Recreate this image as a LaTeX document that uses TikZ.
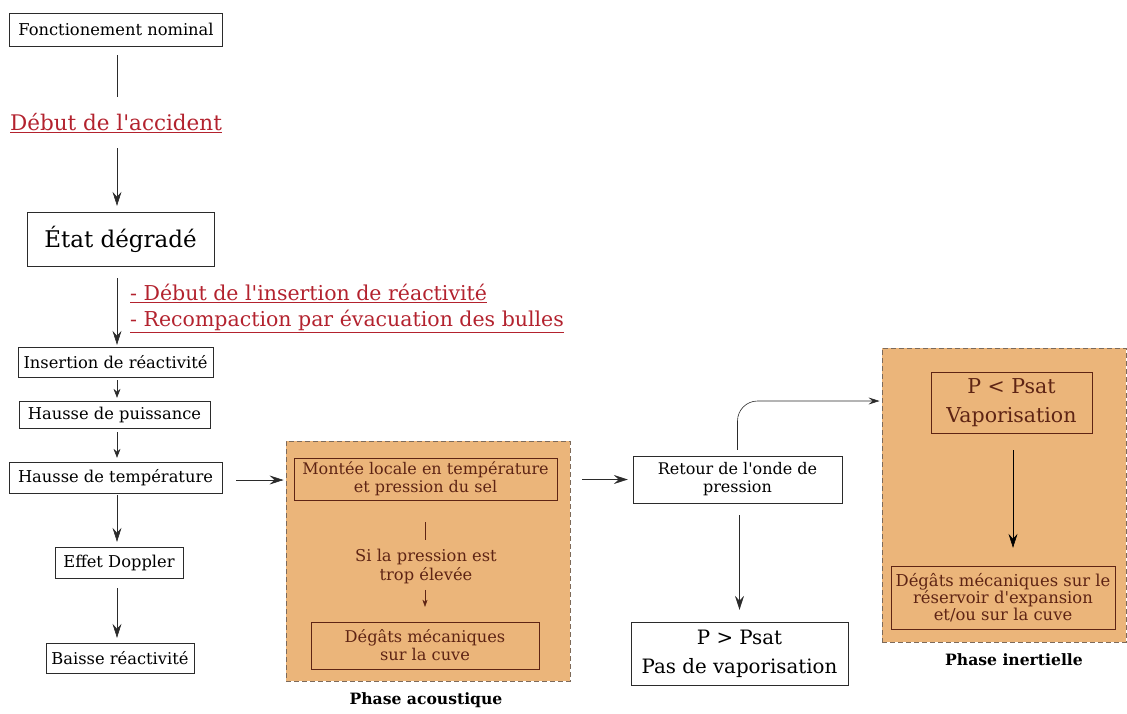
\documentclass[tikz,border=0pt]{standalone}
\usepackage{fontspec}
\setmainfont{DejaVu Serif}[Ligatures=TeXOff]
\usepackage{tikz}
\usetikzlibrary{arrows.meta,positioning,calc}
\definecolor{ink}{HTML}{2B2B2B}
\definecolor{alert}{HTML}{B3222E}
\definecolor{phasefill}{HTML}{EBB57A}
\definecolor{phaseline}{HTML}{7D6A5A}
\definecolor{brownink}{HTML}{5E2414}
\newcommand{\fs}[2]{\fontsize{#1}{#2}\selectfont}

\begin{document}
\begin{tikzpicture}[
  x=1pt, y=-1pt,
  every node/.style={inner sep=0pt},
  plainbox/.style={draw=ink, fill=white, align=center, text=black},
  innerbox/.style={draw=brownink, align=center, text=brownink},
  phasebox/.style={draw=phaseline, line width=0.9pt, dash pattern=on 5pt off 3pt,
    fill=phasefill},
  redlabel/.style={text=alert, anchor=west, font=\fs{20.5}{24}},
  phaselabel/.style={font=\bfseries\fs{15.6}{18}},
  flowline/.style={-{Stealth[length=14pt,width=9pt,inset=5pt]}, draw=ink, semithick},
  smallflow/.style={-{Stealth[length=9pt,width=7pt,inset=3pt]}, draw=ink, semithick},
  plainline/.style={draw=ink, semithick},
]
  \useasboundingbox (0,0) rectangle (1127,713);
  \coordinate (col) at (117,0);

  % phases
  \node[phasebox, minimum width=284, minimum height=240] (acoustic) at (428,561) {};
  \node[phasebox, minimum width=244, minimum height=294] (inertial) at (1004,495) {};

  % left column
  \node[plainbox, minimum width=213, minimum height=33, font=\fs{16.3}{19}]
    (nominal) at (116,29.5) {Fonctionement nominal};
  \node[text=alert, font=\fs{21.5}{25}] (debut) at (116,123)
    {\underline{Début de l'accident}};
  \node[plainbox, minimum width=187, minimum height=54, font=\fs{23}{27}]
    (degrade) at (120.5,239) {État dégradé};
  \node[redlabel] (ins) at (130,293)
    {\underline{- Début de l'insertion de réactivité}};
  \node[redlabel] (recomp) at (130,321)
    {\underline{- Recompaction par évacuation des bulles}};
  \node[plainbox, minimum width=195, minimum height=30, font=\fs{16.3}{19}]
    (insertion) at (115.5,362) {Insertion de réactivité};
  \node[plainbox, minimum width=191, minimum height=27, font=\fs{16.3}{19}]
    (puissance) at (114.5,414.5) {Hausse de puissance};
  \node[plainbox, minimum width=213, minimum height=31, font=\fs{16.3}{19}]
    (temperature) at (115.5,477.5) {Hausse de température};
  \node[plainbox, minimum width=128, minimum height=31, font=\fs{16.3}{19}]
    (doppler) at (119,562.5) {Effet Doppler};
  \node[plainbox, minimum width=148, minimum height=30, font=\fs{16.3}{19}]
    (baisse) at (120,658) {Baisse réactivité};

  \draw[plainline] ($(nominal.south -| col)+(0,9)$) -- ($(nominal.south -| col)+(0,51)$);
  \draw[flowline] ($(debut.center -| col)+(0,25)$) -- ($(degrade.north -| col)+(0,-6)$);
  \draw[flowline] ($(degrade.south -| col)+(0,12)$) -- ($(insertion.north -| col)+(0,-2)$);
  \draw[smallflow] ($(insertion.south -| col)+(0,3)$) -- ($(puissance.north -| col)+(0,-3)$);
  \draw[smallflow] ($(puissance.south -| col)+(0,4)$) -- ($(temperature.north -| col)+(0,-4)$);
  \draw[flowline] ($(temperature.south -| col)+(0,2)$) -- ($(doppler.north -| col)+(0,-5)$);
  \draw[flowline] ($(doppler.south -| col)+(0,10)$) -- ($(baisse.north -| col)+(0,-5)$);
  \draw[flowline] ($(temperature.east)+(14,2.5)$) -- ($(acoustic.west |- temperature)+(-2,2.5)$);

  % acoustic phase
  \node[innerbox, minimum width=263, minimum height=42, font=\fs{16}{18}]
    (montee) at (425.5,479) {Montée locale en température\\et pression du sel};
  \node[align=center, text=brownink, font=\fs{16.3}{19}] (si) at (426,566)
    {Si la pression est\\trop élevée};
  \node[innerbox, minimum width=228, minimum height=47, font=\fs{16.2}{18}]
    (degatsA) at (425,645.5) {Dégâts mécaniques\\sur la cuve};
  \node[phaselabel] (acoustique) at (426,700) {Phase acoustique};
  \draw[brownink, thin] ($(montee.south)+(0,22)$) -- ($(montee.south)+(0,40)$);
  \draw[-{Stealth[length=7pt,width=5pt,inset=2pt]}, brownink, thin]
    ($(degatsA.north)+(0,-32)$) -- ($(degatsA.north)+(0,-15)$);

  % pressure wave
  \node[plainbox, minimum width=209, minimum height=47, font=\fs{16}{18}]
    (retour) at (737.5,479.5) {Retour de l'onde de\\pression};
  \node[plainbox, minimum width=217, minimum height=63, font=\fs{19.8}{29}]
    (psatsup) at (739.5,653.5) {P > Psat\\Pas de vaporisation};
  \draw[flowline] ($(acoustic.east |- retour)+(12,0)$) -- ($(retour.west)+(-5,0)$);
  \draw[flowline] ($(retour.south -| psatsup)+(0,12)$) -- ($(psatsup.north)+(0,-12)$);

  % inertial phase
  \node[innerbox, minimum width=161, minimum height=61, font=\fs{20.5}{29}]
    (psatinf) at (1011.5,402.5) {P < Psat\\Vaporisation};
  \node[innerbox, minimum width=224, minimum height=63, font=\fs{16.4}{17}]
    (degatsB) at (1003,597.5)
    {Dégâts mécaniques sur le\\réservoir d'expansion\\et/ou sur la cuve};
  \node[phaselabel] (inertielle) at (1014,660) {Phase inertielle};
  \draw[-{Stealth[length=14pt,width=9pt,inset=5pt]}, draw=black, semithick]
    ($(psatinf.south)+(1.5,17)$) -- ($(degatsB.north -| psatinf)+(1.5,-18)$);
  \draw[-{Stealth[length=11pt,width=7pt,inset=4pt]}, draw=ink, semithick,
    rounded corners=20pt]
    ($(retour.north)+(0,-6)$) |- ($(inertial.west |- psatinf)+(-2,-1.5)$);
\end{tikzpicture}
\end{document}
